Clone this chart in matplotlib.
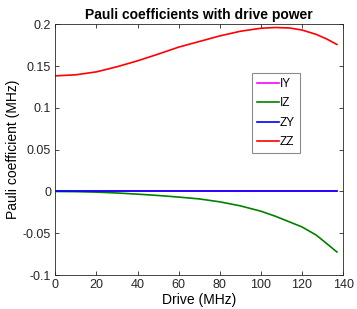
import matplotlib
matplotlib.use("Agg")
import matplotlib.pyplot as plt

plt.rcParams['font.family'] = ['Liberation Sans', 'DejaVu Sans']

drive = [0, 10, 20, 30, 40, 50, 60, 70, 80, 90, 100, 107, 114, 120, 127, 132, 137]
zz = [0.1384, 0.1397, 0.1432, 0.1493, 0.1564, 0.1644, 0.1728, 0.1795, 0.1862, 0.1918, 0.1954, 0.1963, 0.1957, 0.1933, 0.1880, 0.1826, 0.1760]
iz = [0.0, -0.0002, -0.0008, -0.0018, -0.0032, -0.0048, -0.0067, -0.0089, -0.0124, -0.0172, -0.0236, -0.0296, -0.0365, -0.0424, -0.0523, -0.0623, -0.0724]
iy = [0.0] * len(drive)
zy = [0.0] * len(drive)

labels = ['IY', 'IZ', 'ZY', 'ZZ']
colors = ['#ff00ff', '#008000', '#0000ff', '#ff0000']

fig = plt.figure(figsize=(3.57, 3.09), dpi=100)
ax = fig.add_axes([0.155, 0.110, 0.806, 0.811])
for vals, lab, c in zip([iy, iz, zy, zz], labels, colors):
    ax.plot(drive, vals, color=c, lw=1.2, label=lab)

ax.set_xlim(0, 140)
ax.set_ylim(-0.1, 0.2)
ax.set_xticks([0, 20, 40, 60, 80, 100, 120, 140])
ax.set_yticks([-0.1, -0.05, 0, 0.05, 0.1, 0.15, 0.2])
ax.set_yticklabels(['-0.1', '-0.05', '0', '0.05', '0.1', '0.15', '0.2'])
ax.tick_params(direction='in', top=True, right=True, length=3, width=0.6,
               labelsize=9, colors='#262626', pad=3)
for s in ax.spines.values():
    s.set_color('#262626')
    s.set_linewidth(0.6)
ax.set_xlabel('Drive (MHz)', fontsize=10, labelpad=1)
ax.set_ylabel('Pauli coefficient (MHz)', fontsize=10, labelpad=2)
ax.set_title('Pauli coefficients with drive power', fontsize=10, fontweight='bold', pad=4)
leg = ax.legend(loc='upper left', bbox_to_anchor=(0.684, 0.805), fontsize=8.5,
                fancybox=False, framealpha=1, edgecolor='#8c8c8c',
                handlelength=1.85, handletextpad=0.1, borderpad=0.4,
                labelspacing=0.62, borderaxespad=0)
leg.get_frame().set_linewidth(0.8)
fig.savefig('out.png', dpi=100)
